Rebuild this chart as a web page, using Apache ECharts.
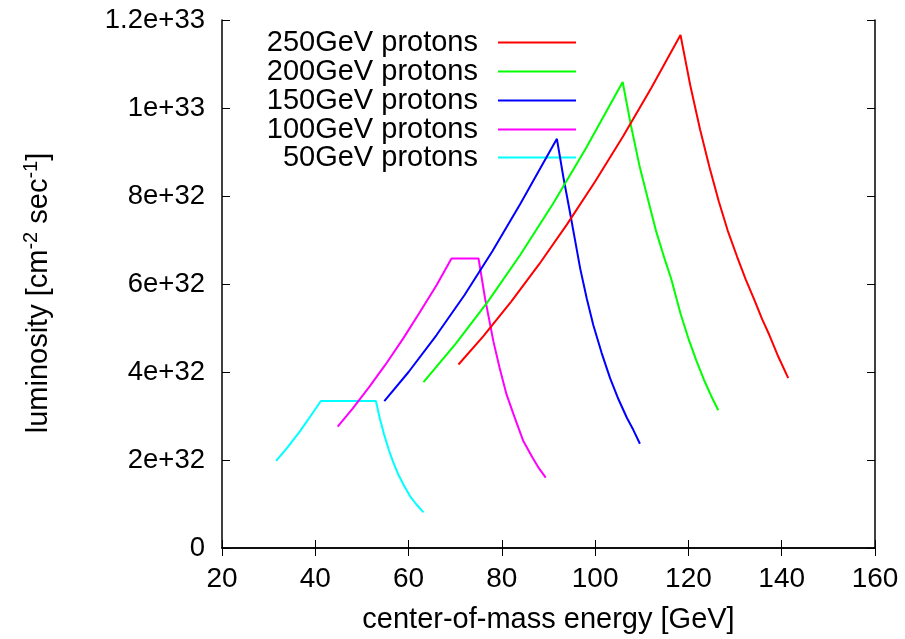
<!DOCTYPE html>
<html><head><meta charset="utf-8">
<script src="https://cdn.jsdelivr.net/npm/echarts@6/dist/echarts.min.js"></script>
<style>html,body{margin:0;padding:0;background:#fff}#c{width:905px;height:639px}</style>
</head><body><div id="c"></div>
<script>
// series names (legend order)
const seriesNames = ['250GeV protons', '200GeV protons', '150GeV protons', '100GeV protons', '50GeV protons'];
const seriesColors = ['#ff0000', '#00ff00', '#0000ff', '#ff00ff', '#00ffff'];

// center-of-mass energy [GeV] and luminosity (units of 1e32 cm^-2 s^-1)
const energy250 = [70.7, 76, 82, 88, 94, 100, 106, 112, 118.3, 120.4, 122.5, 124.5, 126.5, 128.4, 130.4, 132.3, 134.2, 135.8, 137.35, 139.3, 141.4];
const lum250    = [4.17, 4.81, 5.60, 6.45, 7.36, 8.33, 9.36, 10.45, 11.66, 10.51, 9.51, 8.66, 7.88, 7.22, 6.63, 6.10, 5.62, 5.20, 4.84, 4.34, 3.86];

const energy200 = [63.2, 70, 77, 84, 91, 98, 105.9, 107.7, 109.5, 111.4, 113.1, 114.9, 116.3, 118.3, 120.0, 121.7, 123.3, 124.9, 126.4];
const lum200    = [3.77, 4.63, 5.60, 6.67, 7.83, 9.08, 10.59, 9.59, 8.69, 7.89, 7.19, 6.57, 6.12, 5.33, 4.76, 4.26, 3.83, 3.45, 3.13];

const energy150 = [54.8, 60, 66, 72, 78, 84, 91.8, 93.2, 94.6, 95.7, 96.8, 98.2, 99.6, 101.4, 103.2, 105.0, 106.8, 108.2, 109.6];
const lum150    = [3.34, 4.00, 4.84, 5.75, 6.75, 7.83, 9.30, 8.42, 7.63, 6.99, 6.35, 5.67, 5.07, 4.43, 3.86, 3.38, 2.96, 2.68, 2.37];

const energy100 = [44.8, 48, 51.7, 55, 58.9, 62, 66.0, 69.2, 75.0, 76.4, 78.2, 79.5, 81.0, 82.7, 84.6, 86.5, 87.9, 89.4];
const lum100    = [2.76, 3.17, 3.68, 4.16, 4.77, 5.29, 5.97, 6.58, 6.58, 5.67, 4.69, 4.10, 3.49, 2.98, 2.43, 2.07, 1.82, 1.60];

const energy50 = [31.6, 34, 36.7, 39, 41.2, 53.0, 53.85, 54.7, 55.7, 56.6, 57.8, 59.0, 60.3, 61.6, 63.2];
const lum50    = [1.98, 2.28, 2.65, 3.00, 3.34, 3.34, 2.94, 2.60, 2.25, 1.98, 1.67, 1.42, 1.18, 1.00, 0.81];

const energies = [energy250, energy200, energy150, energy100, energy50];
const lums = [lum250, lum200, lum150, lum100, lum50];
const LUM_UNIT = 1e32;

const FONT = "'Liberation Sans', Arial, Helvetica, sans-serif";
const legendTops = [28, 57, 86, 115, 143];

const chart = echarts.init(document.getElementById('c'), null, {renderer: 'canvas'});

const series = seriesNames.map((name, i) => ({
  name: name,
  type: 'line',
  data: energies[i].map((e, j) => [e, lums[i][j] * LUM_UNIT]),
  showSymbol: false,
  symbol: 'none',
  smooth: false,
  lineStyle: {color: seriesColors[i], width: 2},
  itemStyle: {color: seriesColors[i]},
  xAxisIndex: 0, yAxisIndex: 0,
  z: 10 - i
}));

const axisLineStyle = {lineStyle: {color: '#000', width: 1.5}};
const tickStyle = {inside: true, length: 8, lineStyle: {color: '#000', width: 1}};

const option = {
  animation: false,
  backgroundColor: '#fff',
  grid: {left: 222, right: 30, top: 20, bottom: 88, containLabel: false},
  legend: seriesNames.map((n, i) => ({
    data: [{name: n, icon: 'rect', itemStyle: {color: seriesColors[i]}}],
    orient: 'vertical',
    align: 'right',
    right: 329,
    top: legendTops[i],
    padding: 0,
    itemWidth: 78,
    itemHeight: 2,
    selectedMode: false,
    textStyle: {fontSize: 29, color: '#000', fontFamily: FONT, padding: [0, 15, 0, 0]}
  })),
  xAxis: [
    {
      type: 'value', min: 20, max: 160, interval: 20, position: 'bottom',
      axisLine: axisLineStyle, axisTick: tickStyle, splitLine: {show: false},
      axisLabel: {fontSize: 28, color: '#000', fontFamily: FONT, margin: 17},
      name: 'center-of-mass energy [GeV]', nameLocation: 'middle', nameGap: 57,
      nameTextStyle: {fontSize: 29, color: '#000', fontFamily: FONT}
    },
    {
      type: 'value', min: 20, max: 160, interval: 20, position: 'top',
      axisLine: axisLineStyle, axisTick: tickStyle, splitLine: {show: false},
      axisLabel: {show: false}
    }
  ],
  yAxis: [
    {
      type: 'value', min: 0, max: 1.2e33, interval: 2e32, position: 'left',
      axisLine: axisLineStyle, axisTick: tickStyle, splitLine: {show: false},
      axisLabel: {
        fontSize: 27.5, color: '#000', fontFamily: FONT, margin: 17,
        formatter: v => v === 0 ? '0' : Number(v.toPrecision(6)).toExponential()
      },
      name: '{m|luminosity [cm}{s|-2}{m| sec}{s|-1}{m|]}',
      nameLocation: 'middle', nameGap: 165, nameRotate: 90,
      nameTextStyle: {
        fontFamily: FONT, color: '#000', padding: [0, 18, 0, 0],
        rich: {
          m: {fontSize: 29, fontFamily: FONT, color: '#000'},
          s: {fontSize: 20, fontFamily: FONT, color: '#000', verticalAlign: 'top', padding: [0, 0, 16, 0]}
        }
      }
    },
    {
      type: 'value', min: 0, max: 1.2e33, interval: 2e32, position: 'right',
      axisLine: axisLineStyle, axisTick: tickStyle, splitLine: {show: false},
      axisLabel: {show: false}
    }
  ],
  series: series
};
chart.setOption(option);
</script>
</body></html>
